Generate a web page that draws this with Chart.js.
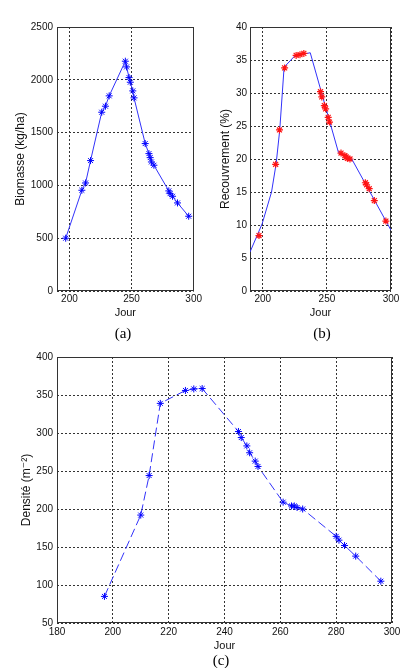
<!DOCTYPE html>
<html><head><meta charset="utf-8">
<script src="https://cdn.jsdelivr.net/npm/chart.js@4.4.0/dist/chart.umd.min.js"></script>
<style>
html,body{margin:0;padding:0;background:#fff;width:408px;height:668px;overflow:hidden;}
canvas{position:absolute;}
.cap{position:absolute;font-family:'Liberation Serif','Times New Roman',serif;font-size:15px;color:#000;transform:translate(-50%,-50%);white-space:nowrap;line-height:1;}
</style></head><body>
<canvas id="ca" width="204" height="330" style="left:0;top:0"></canvas>
<canvas id="cb" width="204" height="330" style="left:204px;top:0"></canvas>
<canvas id="cc" width="408" height="328" style="left:0;top:340px"></canvas>
<div class="cap" style="left:123px;top:333px">(a)</div>
<div class="cap" style="left:322px;top:333px">(b)</div>
<div class="cap" style="left:221px;top:660px">(c)</div>
<script>
// ---- data ----
const jours = [197, 210, 213, 217, 226, 229, 232, 245, 246, 248, 249, 251, 252, 261, 264, 265, 266, 268, 280, 281, 283, 287, 296];
const biomasse = [500, 954, 1023, 1235, 1693, 1750, 1848, 2176, 2122, 2021, 1977, 1895, 1829, 1396, 1301, 1263, 1222, 1191, 948, 922, 897, 834, 708];
const recouvrementObs = [8.4, 19.2, 24.4, 33.8, 35.7, 35.8, 36.0, 30.2, 29.4, 28.1, 27.6, 26.3, 25.6, 20.9, 20.5, 20.3, 20.1, 20.0, 16.4, 16.1, 15.5, 13.7, 10.6];
const joursSimule = [190, 199.5, 206.8, 210.4, 213.2, 216.6, 224.8, 237, 259, 269.4, 300];
const recouvrementSimule = [5.9, 10.2, 15.0, 19.3, 24.4, 33.9, 35.6, 36.1, 21.0, 20.0, 9.2];
const densite = [85, 192, 244, 339, 356, 358, 358.5, 302, 294, 283, 274, 263, 256, 209, 204, 204, 202, 200, 164, 159, 152, 138, 105];
const ticksJourAB = [200, 250, 300];
const ticksJourC = [180, 200, 220, 240, 260, 280, 300];
const ticksBiomasse = [0, 500, 1000, 1500, 2000, 2500];
const ticksRecouvrement = [0, 5, 10, 15, 20, 25, 30, 35, 40];
const ticksDensite = [50, 100, 150, 200, 250, 300, 350, 400];

const FONT = "'Liberation Sans', Arial, 'DejaVu Sans', sans-serif";
const BLUE_LINE = 'rgb(50,50,250)';
const BLUE = 'rgb(0,0,255)';
const RED = 'rgb(255,20,20)';

function pts(xs, ys) { return xs.map((x, i) => ({ x: x, y: ys[i] })); }

function axis(min, max, ticks, o) {
  return {
    type: 'linear', min: min, max: max,
    afterBuildTicks: s => { s.ticks = ticks.map(v => ({ value: v })); },
    afterFit: s => { if (o.width != null) s.width = o.width; if (o.height != null) s.height = o.height; },
    grid: { color: '#333', lineWidth: 1, drawTicks: false },
    border: { display: false, dash: [2, 2] },
    ticks: { color: '#111', font: { family: FONT, size: 10 }, padding: o.pad, maxRotation: 0, autoSkip: false, callback: v => String(v) },
    title: { display: true, text: o.title, color: '#111', font: { family: FONT, size: o.tsize }, padding: o.tpad }
  };
}

const boxPlugin = {
  id: 'box',
  beforeDatasetsDraw(chart) {
    const { ctx, chartArea: a } = chart;
    ctx.save();
    ctx.strokeStyle = '#333';
    ctx.lineWidth = 1;
    ctx.strokeRect(Math.round(a.left) + 0.5, Math.round(a.top) + 0.5, Math.round(a.right - a.left) - 1, Math.round(a.bottom - a.top) - 1);
    ctx.restore();
  }
};

function make(id, datasets, xs, ys, pad) {
  return new Chart(document.getElementById(id), {
    type: 'scatter',
    data: { datasets: datasets },
    options: {
      responsive: false, animation: false, events: [],
      layout: { padding: pad },
      plugins: { legend: { display: false }, tooltip: { enabled: false } },
      scales: { x: xs, y: ys }
    },
    plugins: [boxPlugin]
  });
}

function starSet(xs, ys, color, line, dash, w) {
  return {
    data: pts(xs, ys), showLine: line, borderColor: BLUE_LINE, borderWidth: 1, borderDash: dash || [],
    pointStyle: 'star', pointRadius: 3.5, pointBorderColor: color, pointBackgroundColor: color, pointBorderWidth: w || 1,
    tension: 0
  };
}

// (a) Biomasse
make('ca', [starSet(jours, biomasse, BLUE, true)],
  axis(190, 300, ticksJourAB, { height: 29, pad: 2, title: 'Jour', tsize: 11, tpad: { top: 0, bottom: 0 } }),
  axis(0, 2500, ticksBiomasse, { width: 57, pad: 4, title: 'Biomasse (kg/ha)', tsize: 12, tpad: { top: 13, bottom: 0 } }),
  { left: 0, top: 27, right: 6, bottom: 10 });

// (b) Recouvrement
make('cb', [
    starSet(jours, recouvrementObs, RED, false, [], 1.2),
    { data: pts(joursSimule, recouvrementSimule), showLine: true, borderColor: BLUE_LINE, borderWidth: 1, pointRadius: 0, tension: 0 }
  ],
  axis(190, 300, ticksJourAB, { height: 29, pad: 2, title: 'Jour', tsize: 11, tpad: { top: 0, bottom: 0 } }),
  axis(0, 40, ticksRecouvrement, { width: 46, pad: 3, title: 'Recouvrement (%)', tsize: 12, tpad: { top: 14, bottom: 0 } }),
  { left: 0, top: 27, right: 17, bottom: 10 });

// (c) Densité
make('cc', [starSet(jours, densite, BLUE, true, [9, 4])],
  axis(180, 300, ticksJourC, { height: 30, pad: 3, title: 'Jour', tsize: 11, tpad: { top: 0, bottom: 0 } }),
  axis(50, 400, ticksDensite, { width: 57, pad: 4, title: 'Densité (m⁻²)', tsize: 12, tpad: { top: 19, bottom: 0 } }),
  { left: 0, top: 17, right: 16, bottom: 15 });
</script>
</body></html>
